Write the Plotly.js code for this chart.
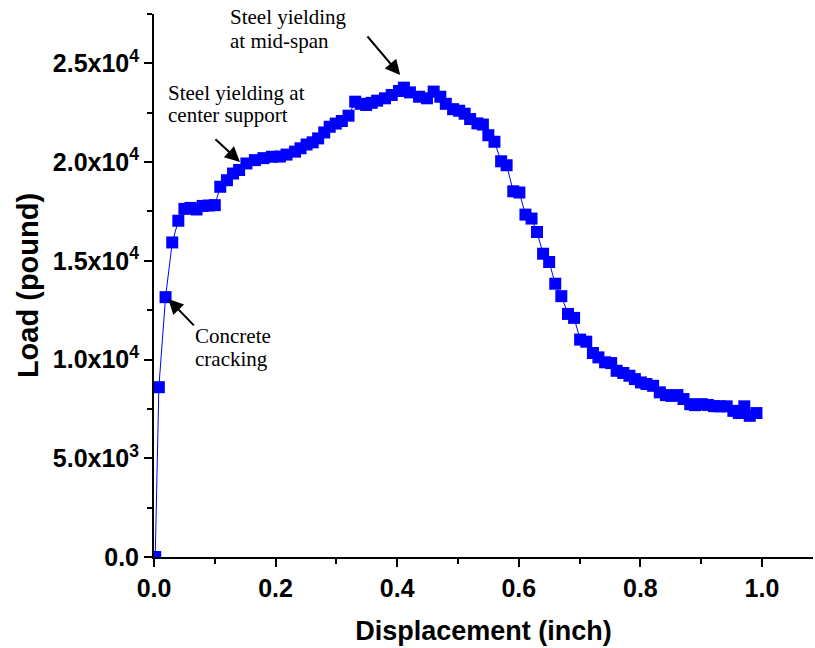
<!DOCTYPE html>
<html>
<head>
<meta charset="utf-8">
<script src="https://cdn.plot.ly/plotly-3.0.1.min.js"></script>
<style>html,body{margin:0;padding:0;background:#fff;}#chart{width:815px;height:648px;}</style>
</head>
<body>
<div id="chart"></div>
<script>
// Displacement (inch)
const displacement = [0.002,0.008,0.019,0.030,0.040,0.050,0.060,0.070,0.080,0.090,0.100,0.109,0.120,0.130,0.140,0.152,0.166,0.180,0.194,0.207,0.218,0.232,0.241,0.251,0.261,0.270,0.280,0.289,0.299,0.309,0.320,0.331,0.340,0.349,0.358,0.367,0.380,0.391,0.403,0.411,0.421,0.436,0.449,0.460,0.471,0.480,0.492,0.502,0.511,0.520,0.532,0.541,0.550,0.560,0.571,0.580,0.591,0.601,0.611,0.621,0.630,0.640,0.650,0.660,0.670,0.681,0.691,0.701,0.711,0.722,0.731,0.742,0.752,0.761,0.772,0.782,0.791,0.801,0.810,0.821,0.832,0.842,0.851,0.861,0.871,0.882,0.890,0.901,0.911,0.921,0.931,0.942,0.953,0.962,0.971,0.980,0.991];
// Load (pound)
const load = [0,8600,13160,15930,17030,17630,17680,17600,17780,17800,17820,18750,19080,19420,19600,19930,20100,20200,20270,20280,20380,20530,20700,20890,21000,21200,21500,21790,21950,22080,22350,23060,22950,22890,23000,23110,23230,23400,23600,23770,23530,23310,23230,23570,23310,22950,22680,22600,22450,22180,21960,21900,21360,21030,20040,19840,18520,18460,17340,17140,16460,15360,14940,13840,13210,12310,12110,11010,10905,10330,10110,9860,9820,9430,9320,9180,9010,8840,8760,8670,8340,8200,8160,8200,8000,7740,7690,7740,7700,7640,7630,7630,7400,7290,7630,7150,7290];

const xTickVals = [0,0.2,0.4,0.6,0.8,1.0];
const xTickText = ['0.0','0.2','0.4','0.6','0.8','1.0'];
const yTickVals = [0,5000,10000,15000,20000,25000];
const yTickText = ['0.0','5.0x10<sup>3</sup>','1.0x10<sup>4</sup>','1.5x10<sup>4</sup>','2.0x10<sup>4</sup>','2.5x10<sup>4</sup>'];

// annotation texts
const noteLines = [
  {t:'Steel yielding', x:0.122, y:27350},
  {t:'at mid-span', x:0.122, y:26150},
  {t:'Steel yielding at', x:0.0197, y:23480},
  {t:'center support', x:0.0197, y:22370},
  {t:'Concrete', x:0.064, y:11195},
  {t:'cracking', x:0.064, y:10030}
];
const arrows = [
  {x:0.405, y:24410, ax:-34, ay:-40},
  {x:0.1414, y:20010, ax:-26, ay:-24},
  {x:0.0235, y:13070, ax:27, ay:28}
];

const serif = {family:'"Liberation Serif","Times New Roman",serif', size:21, color:'#000'};
const annotations = [];
noteLines.forEach(n => annotations.push({
  x:n.x, y:n.y, xref:'x', yref:'y', text:n.t, showarrow:false,
  xanchor:'left', yanchor:'middle', font:serif, align:'left'
}));
arrows.forEach(a => annotations.push({
  x:a.x, y:a.y, xref:'x', yref:'y', text:'', showarrow:true,
  ax:a.ax, ay:a.ay, arrowhead:2, arrowsize:1.5, arrowwidth:2, arrowcolor:'#000', standoff:0
}));

const sans = '"Liberation Sans",Arial,sans-serif';
const bold = {family:sans, size:25, color:'#000', weight:'bold'};

Plotly.newPlot('chart', [{
  x: displacement, y: load, type:'scatter', mode:'lines+markers',
  line:{color:'#0000ff', width:1},
  marker:{symbol:'square', size:12, color:'#0000ff', line:{width:0}},
  cliponaxis:true, showlegend:false
}], {
  width:815, height:648,
  margin:{l:154, r:2, t:14, b:91},
  paper_bgcolor:'#fff', plot_bgcolor:'#fff',
  xaxis:{
    range:[0,1.084], showgrid:false, zeroline:false,
    showline:true, linecolor:'#000', linewidth:2,
    ticks:'outside', ticklen:8, tickwidth:2, tickcolor:'#000',
    tickvals:xTickVals, ticktext:xTickText, tickfont:bold,
    minor:{tickvals:[0.1,0.3,0.5,0.7,0.9], ticks:'outside', ticklen:5, tickwidth:2, tickcolor:'#000'},
    title:{text:'Displacement (inch)', font:{family:sans, size:27, color:'#000', weight:'bold'}, standoff:20}
  },
  yaxis:{
    range:[0,27500], showgrid:false, zeroline:false,
    showline:true, linecolor:'#000', linewidth:2,
    ticks:'outside', ticklen:8, tickwidth:2, tickcolor:'#000',
    tickvals:yTickVals, ticktext:yTickText, tickfont:bold,
    minor:{tickvals:[2500,7500,12500,17500,22500,27500], ticks:'outside', ticklen:5, tickwidth:2, tickcolor:'#000'},
    title:{text:'Load (pound)', font:{family:sans, size:29, color:'#000', weight:'bold'}, standoff:6}
  },
  annotations: annotations
}, {staticPlot:true, displayModeBar:false});
</script>
</body>
</html>
